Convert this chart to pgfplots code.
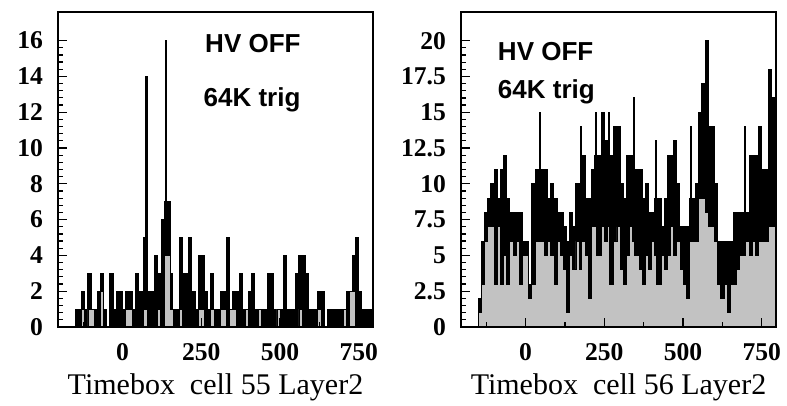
\documentclass[border=0pt]{standalone}
\usepackage{fontspec}
\setmainfont{Liberation Serif}
\newfontfamily\hv{Liberation Sans}
\usepackage{pgfplots}
\usepackage{pgfplotstable}
\pgfplotsset{compat=1.18}
\definecolor{rootgrey}{RGB}{194,194,194}

% x (left edge of bin), upper envelope, lower (grey) level
\pgfplotstableread{
x u l
-150 1 0
-140 1 0
-130 2 1
-120 1 0
-110 3 1
-100 1 1
-90 1 0
-80 2 0
-70 3 2
-60 1 0
-50 0 0
-40 3 0
-30 1 0
-20 2 0
-10 2 0
0 1 0
10 2 1
20 2 1
30 1 0
40 3 0
50 2 0
60 2 0
66 5 1
72 14 1
78 2 0
90 2 0
100 4 0
110 3 1
120 1 0
124 6 0
134 7 4
137 16 4
141 7 4
152 3 1
160 1 0
170 1 0
180 5 1
190 3 0
200 3 0
210 5 0
220 2 0
230 1 0
240 4 1
250 4 1
260 2 0
270 1 0
280 3 1
290 1 0
300 1 0
310 2 1
320 2 1
330 5 0
340 1 1
350 2 1
360 2 0
370 3 0
380 1 0
390 1 1
400 2 0
410 3 0
420 1 0
430 1 1
440 1 0
450 1 0
460 3 0
470 3 0
480 1 0
490 1 1
500 1 0
510 4 0
520 1 0
530 1 0
540 1 0
550 3 0
560 4 1
570 4 0
580 3 0
590 1 0
600 1 0
610 1 0
620 2 1
630 2 0
640 0 0
650 1 0
660 1 0
670 1 0
680 1 0
690 1 0
700 1 1
710 2 0
720 2 2
730 4 2
740 5 0
750 2 0
760 1 0
770 1 0
780 1 0
790 1 0
795 1 0
}\cellA

\pgfplotstableread{
x u l
-150 2 1
-140 6 3
-130 8 6
-120 9 7
-110 10 7
-100 11 3
-90 9 7
-80 11 3
-70 12 5
-60 9 3
-50 8 6
-40 8 5
-30 8 6
-20 8 3
-10 6 5
0 6 5
10 3 2
20 10 3
30 11 6
40 11 6
44 15 6
47 11 6
50 11 6
60 11 5
70 9 6
80 10 5
90 9 3
100 8 6
110 8 5
120 7 4
130 6 1
140 8 5
150 7 4
160 10 6
170 10 4
173 14 4
176 12 6
190 9 5
200 9 2
210 11 7
220 12 7
223 15 7
226 12 5
240 15 7
250 13 6
260 12 7
263 15 7
266 12 3
280 14 6
290 14 7
300 10 4
310 9 3
320 12 5
330 12 7
340 11 6
343 16 6
346 11 5
360 11 4
370 9 3
380 10 5
390 8 4
400 8 6
410 9 5
413 13 5
416 9 3
430 7 5
440 9 4
450 12 5
460 12 7
470 13 5
480 10 6
490 7 4
500 7 3
510 7 2
520 9 6
523 14 6
526 9 6
540 10 6
550 15 9
560 17 9
570 20 8
580 14 7
590 14 7
600 10 6
610 6 3
620 6 2
630 6 3
640 6 1
650 6 3
660 8 3
670 8 4
680 8 5
690 8 5
694 14 5
697 8 6
710 12 5
720 12 6
730 12 5
740 14 6
750 11 6
760 11 6
770 18 7
780 16 7
790 16 7
795 16 7
}\cellB

\pgfplotsset{
  rootframe/.style={
    scale only axis,
    width=157.5pt, height=157.5pt,
    xmin=-205, xmax=795, ymin=0,
    axis on top,
    axis line style={line width=1pt},
    xtick={0,250,500,750},
    minor xtick={-125,125,375,625},
    xtick pos=bottom, ytick pos=left,
    tick align=inside,
    major tick length=4.5pt, minor tick length=2.3pt,
    every tick/.style={black, line width=0.6pt},
    minor y tick num=4,
    /pgf/number format/assume math mode=true,
    ticklabel style={font=\bfseries\fontsize{12.8}{14}\selectfont},
    xticklabel style={yshift=-4.5pt},
    yticklabel style={xshift=-4pt},
    xlabel style={at={(axis description cs:0.5,-0.19)}, anchor=center,
      font=\fontsize{15}{17}\selectfont},
  },
  upper/.style={const plot, fill=black, draw=black, line width=0.5pt},
  lower/.style={const plot, fill=rootgrey, draw=black, line width=0.4pt},
}

\begin{document}
\begin{tikzpicture}
\path[use as bounding box] (-29pt,-39.5pt) rectangle (364.5pt,163.5pt);

\begin{axis}[rootframe, at={(0pt,0pt)}, ymax=17.6, ytick={0,2,...,16},
  xlabel={Timebox~ cell 55 Layer2}]
\addplot[upper] table[x=x, y=u] {\cellA} \closedcycle;
\addplot[lower] table[x=x, y=l] {\cellA} \closedcycle;
\node[anchor=west, font=\hv\bfseries\fontsize{13}{15}\selectfont]
  at (rel axis cs:0.445,0.90) {HV OFF};
\node[anchor=west, font=\hv\bfseries\fontsize{13}{15}\selectfont]
  at (rel axis cs:0.44,0.72) {64K trig};
\end{axis}

\begin{axis}[rootframe, at={(201.5pt,0pt)}, ymax=22, ytick={0,2.5,...,20},
  yticklabel={\pgfmathprintnumber[fixed,precision=1]{\tick}},
  xlabel={Timebox~ cell 56 Layer2}]
\addplot[upper] table[x=x, y=u] {\cellB} \closedcycle;
\addplot[lower] table[x=x, y=l] {\cellB} \closedcycle;
\node[anchor=west, font=\hv\bfseries\fontsize{13}{15}\selectfont]
  at (rel axis cs:0.095,0.875) {HV OFF};
\node[anchor=west, font=\hv\bfseries\fontsize{13}{15}\selectfont]
  at (rel axis cs:0.095,0.745) {64K trig};
\end{axis}
\end{tikzpicture}
\end{document}
